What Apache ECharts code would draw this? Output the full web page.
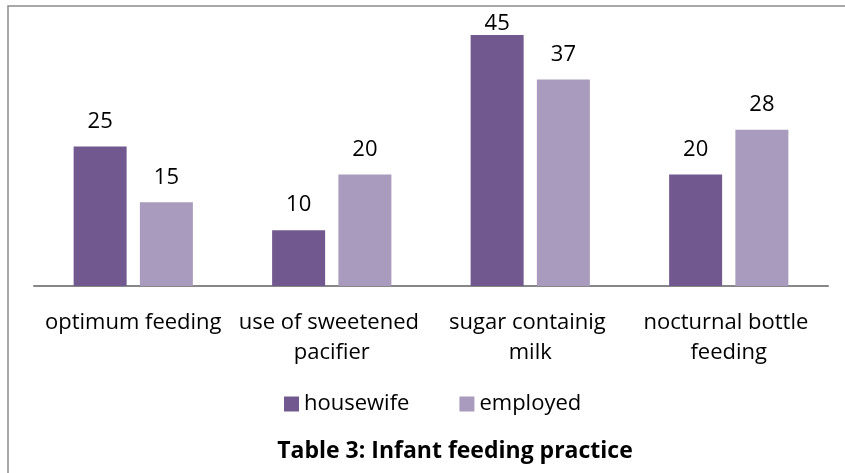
<!DOCTYPE html>
<html>
<head>
<meta charset="utf-8">
<script src="https://cdn.jsdelivr.net/npm/echarts@6/dist/echarts.min.js"></script>
<style>
  html, body { margin: 0; padding: 0; background: #ffffff; }
  #chart { width: 845px; height: 473px; }
</style>
</head>
<body>
<div id="chart"></div>
<script>
// Infant feeding practice by mother's occupation
const categories = ['optimum feeding', 'use of sweetened pacifier', 'sugar containig milk', 'nocturnal bottle feeding'];
const seriesNames = ['housewife', 'employed'];
const housewife = [25, 10, 45, 20];
const employed = [15, 20, 37, 28];
const titleText = 'Table 3: Infant feeding practice';

const yMax = 50;
const colors = ['#71588F', '#A99BBD'];
const font = '"Open Sans", "DejaVu Sans", sans-serif';

// labels that would run past the top of the plot sit right on the bar
function withLabels(values) {
  return values.map(v => v > yMax * 0.85
    ? { value: v, label: { distance: 0 } }
    : v);
}

const chart = echarts.init(document.getElementById('chart'), null, { renderer: 'canvas' });

chart.setOption({
  animation: false,
  backgroundColor: '#ffffff',
  textStyle: { fontFamily: font },
  title: {
    text: titleText,
    left: 450,
    top: 435,
    textAlign: 'center',
    textStyle: { fontFamily: font, fontSize: 23, fontWeight: 'bold', color: '#000000' }
  },
  legend: {
    data: seriesNames,
    top: 388,
    left: 279,
    icon: 'rect',
    itemWidth: 15,
    itemHeight: 15,
    itemGap: 50,
    textStyle: { fontFamily: font, fontSize: 22, color: '#000000' }
  },
  grid: { left: 34, right: 17, top: 7, bottom: 187, containLabel: false },
  xAxis: {
    type: 'category',
    data: categories,
    axisLine: { show: true, lineStyle: { color: '#878787', width: 2 } },
    axisTick: { show: false },
    axisLabel: {
      interval: 0,
      margin: 22,
      fontFamily: font,
      fontSize: 22,
      lineHeight: 30,
      color: '#000000',
      width: 196,
      overflow: 'break'
    }
  },
  yAxis: {
    type: 'value',
    min: 0,
    max: yMax,
    show: false,
    splitLine: { show: false }
  },
  series: [
    {
      name: seriesNames[0],
      type: 'bar',
      data: withLabels(housewife),
      itemStyle: { color: colors[0] },
      barWidth: 53,
      barGap: '25%',
      label: { show: true, position: 'top', distance: 14, fontFamily: font, fontSize: 22, color: '#000000' }
    },
    {
      name: seriesNames[1],
      type: 'bar',
      data: withLabels(employed),
      itemStyle: { color: colors[1] },
      barWidth: 53,
      label: { show: true, position: 'top', distance: 14, fontFamily: font, fontSize: 22, color: '#000000' }
    }
  ],
  graphic: [
    {
      type: 'polyline',
      silent: true,
      shape: { points: [[8, 473], [8, 6], [845, 6]] },
      style: { stroke: '#8C8C8C', lineWidth: 1.5, fill: null }
    }
  ]
});
</script>
</body>
</html>
